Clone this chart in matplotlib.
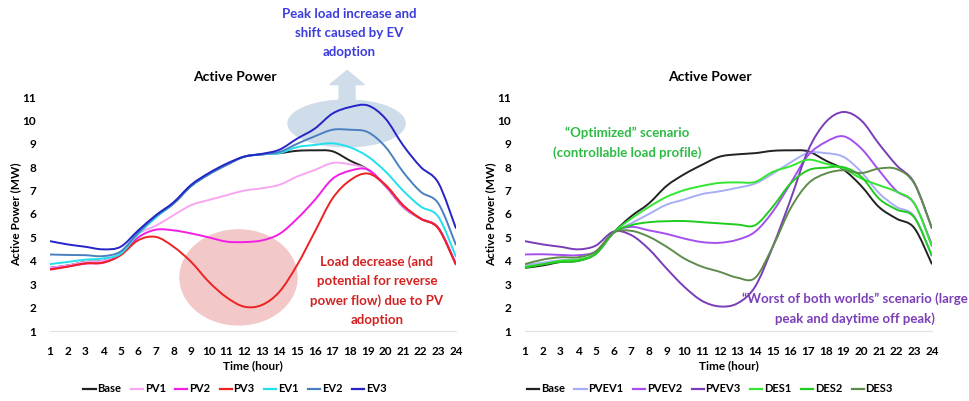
import matplotlib.pyplot as plt
import numpy as np
from matplotlib.path import Path
from matplotlib.patches import PathPatch, Ellipse, FancyArrow
from matplotlib.lines import Line2D

plt.rcParams['font.family'] = ['Lato', 'DejaVu Sans']
plt.rcParams['font.weight'] = 'bold'

hours = list(range(1, 25))

# left chart
base = [3.7, 3.8, 3.95, 4.0, 4.3, 5.2, 5.9, 6.45, 7.2, 7.7, 8.1, 8.45,
        8.55, 8.6, 8.7, 8.72, 8.68, 8.28, 7.9, 7.2, 6.3, 5.8, 5.4, 3.85]
pv1 = [3.7, 3.8, 3.95, 4.0, 4.3, 5.15, 5.5, 5.95, 6.38, 6.6, 6.8, 7.0,
       7.1, 7.25, 7.6, 7.88, 8.18, 8.12, 7.9, 7.2, 6.3, 5.8, 5.4, 3.85]
pv2 = [3.65, 3.75, 3.88, 3.92, 4.25, 5.0, 5.33, 5.3, 5.17, 5.0, 4.82, 4.8,
       4.87, 5.15, 5.8, 6.6, 7.5, 7.85, 7.9, 7.22, 6.35, 5.8, 5.4, 3.85]
pv3 = [3.62, 3.75, 3.89, 3.92, 4.24, 4.88, 5.02, 4.6, 3.95, 3.1, 2.44, 2.04,
       2.11, 2.68, 3.82, 5.24, 6.66, 7.44, 7.73, 7.25, 6.38, 5.8, 5.38, 3.82]
ev1 = [3.86, 3.95, 4.05, 4.1, 4.3, 5.15, 5.85, 6.45, 7.2, 7.7, 8.1, 8.45,
       8.55, 8.6, 8.86, 8.95, 9.02, 8.85, 8.46, 7.82, 7.0, 6.32, 5.88, 4.17]
ev2 = [4.27, 4.25, 4.24, 4.2, 4.4, 5.2, 5.9, 6.45, 7.2, 7.7, 8.1, 8.45,
       8.55, 8.65, 9.0, 9.32, 9.6, 9.6, 9.5, 8.87, 7.8, 6.95, 6.45, 4.67]
ev3 = [4.84, 4.7, 4.6, 4.49, 4.6, 5.3, 5.95, 6.5, 7.25, 7.75, 8.15, 8.45,
       8.57, 8.75, 9.22, 9.65, 10.29, 10.57, 10.64, 10.08, 8.94, 8.01, 7.33, 5.38]

# right chart
pvev1 = [3.82, 3.92, 4.02, 4.05, 4.3, 5.2, 5.6, 6.0, 6.4, 6.62, 6.85, 6.97,
         7.12, 7.3, 7.72, 8.2, 8.61, 8.6, 8.44, 7.8, 6.9, 6.3, 5.9, 4.2]
pvev2 = [4.27, 4.28, 4.25, 4.24, 4.4, 5.2, 5.45, 5.3, 5.15, 4.95, 4.8, 4.77,
         4.9, 5.24, 6.1, 7.3, 8.51, 9.08, 9.32, 8.8, 7.87, 6.98, 6.45, 4.67]
pvev3 = [4.84, 4.7, 4.6, 4.49, 4.65, 5.25, 5.1, 4.5, 3.67, 2.89, 2.29, 2.05,
         2.18, 2.89, 4.6, 6.6, 8.72, 9.93, 10.36, 10.0, 9.0, 8.08, 7.33, 5.38]
des1 = [3.75, 3.85, 4.0, 4.05, 4.3, 5.2, 5.8, 6.3, 6.73, 7.02, 7.2, 7.33,
        7.35, 7.37, 7.8, 8.04, 8.32, 8.15, 7.94, 7.52, 7.23, 6.95, 6.45, 4.6]
des2 = [3.7, 3.85, 3.95, 4.0, 4.3, 5.2, 5.52, 5.65, 5.69, 5.7, 5.65, 5.6,
        5.55, 5.52, 6.31, 7.3, 7.87, 7.98, 8.0, 7.6, 6.66, 6.19, 5.85, 4.2]
des3 = [3.86, 4.05, 4.15, 4.15, 4.4, 5.2, 5.28, 5.03, 4.6, 4.1, 3.75, 3.53,
        3.28, 3.27, 4.6, 6.23, 7.3, 7.73, 7.87, 7.75, 7.94, 7.92, 7.3, 5.38]

left_series = [("Base", base, "#222222"), ("PV1", pv1, "#f7a6f2"),
               ("PV2", pv2, "#f21ee6"), ("PV3", pv3, "#ee2222"),
               ("EV1", ev1, "#22e0ee"), ("EV2", ev2, "#4a80c0"),
               ("EV3", ev3, "#2424c8")]
right_series = [("Base", base, "#222222"), ("PVEV1", pvev1, "#a8aef5"),
                ("PVEV2", pvev2, "#a550ee"), ("PVEV3", pvev3, "#7a3cb8"),
                ("DES1", des1, "#33e633"), ("DES2", des2, "#1fcc1f"),
                ("DES3", des3, "#5e8c4a")]


def smooth_path(x, y):
    # Catmull-Rom through the points, as cubic bezier pieces
    p = np.column_stack([x, y]).astype(float)
    n = len(p)
    verts = [p[0]]
    codes = [Path.MOVETO]
    for i in range(n - 1):
        p0 = p[i - 1] if i > 0 else p[i]
        p3 = p[i + 2] if i + 2 < n else p[i + 1]
        c1 = p[i] + (p[i + 1] - p0) / 6.0
        c2 = p[i + 1] - (p3 - p[i]) / 6.0
        verts += [c1, c2, p[i + 1]]
        codes += [Path.CURVE4] * 3
    return Path(verts, codes)


fig = plt.figure(figsize=(9.69, 4.01), dpi=100)
W, H = 969, 401
axl = fig.add_axes([50 / W, 1 - 331 / H, 406 / W, 234 / H])
axr = fig.add_axes([525 / W, 1 - 331 / H, 407 / W, 234 / H])

for ax, series, tx in [(axl, left_series, 235), (axr, right_series, 710)]:
    handles = []
    for name, vals, col in series:
        ax.add_patch(PathPatch(smooth_path(hours, vals), fill=False,
                               edgecolor=col, lw=1.4, zorder=3))
        handles.append(Line2D([], [], color=col, lw=1.6, label=name))
    ax.set_xlim(1, 24)
    ax.set_ylim(1, 11)
    ax.set_xticks(hours)
    ax.set_yticks(range(1, 12))
    for s in ["top", "right", "left"]:
        ax.spines[s].set_visible(False)
    ax.spines["bottom"].set_color("#e2e2e2")
    ax.tick_params(length=0, labelsize=8.5)
    ax.tick_params(axis='x', pad=11)
    ax.tick_params(axis='y', pad=10)
    ax.set_xlabel("Time (hour)", fontsize=8.5, fontweight='bold', labelpad=2)
    ax.set_ylabel("Active Power (MW)", fontsize=8.5, fontweight='bold', labelpad=1)
    fig.text(tx / W, 1 - 77 / H, "Active Power", ha='center', va='center',
             fontsize=10, fontweight='bold')
    fig.legend(handles=handles, loc='center', bbox_to_anchor=(tx / W, 1 - 389 / H),
               ncol=7, frameon=False, fontsize=8, handlelength=1.1,
               handletextpad=0.15, columnspacing=0.85)

# shaded highlights
axl.add_patch(Ellipse((11.68, 3.29), 6.63, 4.06, color="#f2c8c8", zorder=1))
axl.add_patch(Ellipse((17.8, 9.87), 6.63, 2.0, color="#cfdcea", zorder=1))
axl.add_patch(FancyArrow(17.83, 10.85, 0, 0.68, width=0.9, head_width=1.95,
                         head_length=0.6, length_includes_head=False,
                         color="#cfdcea", zorder=1, clip_on=False))

fig.text(349 / W, 1 - 33 / H, "Peak load increase and\nshift caused by EV\nadoption",
         ha='center', va='center', fontsize=9.5, fontweight='bold',
         color="#3c3cdc", linespacing=1.7)
fig.text(377 / W, 1 - 291 / H, "Load decrease (and\npotential for reverse\npower flow) due to PV\nadoption",
         ha='center', va='center', fontsize=9.5, fontweight='bold',
         color="#d42222", linespacing=1.7)
fig.text(627 / W, 1 - 143 / H, "\u201cOptimized\u201d scenario\n(controllable load profile)",
         ha='center', va='center', fontsize=9.5, fontweight='bold',
         color="#2dbb45", linespacing=1.7)
fig.text(855 / W, 1 - 309 / H, "\u201cWorst of both worlds\u201d scenario (large\npeak and daytime off peak)",
         ha='center', va='center', fontsize=9.5, fontweight='bold',
         color="#7b3fb8", linespacing=1.7)

fig.savefig("out.png", dpi=100)
